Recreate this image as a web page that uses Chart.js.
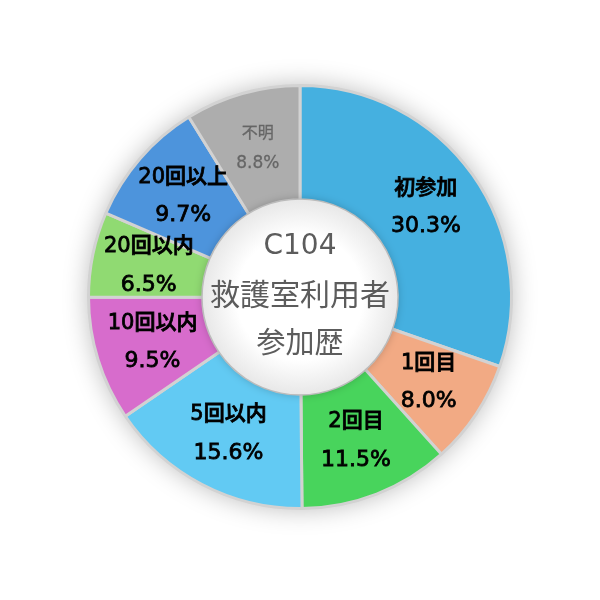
<!DOCTYPE html>
<html>
<head>
<meta charset="utf-8">
<script src="https://cdn.jsdelivr.net/npm/chart.js@4"></script>
<style>
    html, body { margin: 0; padding: 0; background: #ffffff; }
    #wrap { width: 600px; height: 600px; }
</style>
</head>
<body>
<div id="wrap"><canvas id="historyChart" width="600" height="600"></canvas></div>
<script>
const categories = ["初参加", "1回目", "2回目", "5回以内", "10回以内", "20回以内", "20回以上", "不明"];
const shares = [30.3, 8.0, 11.5, 15.6, 9.5, 6.5, 9.7, 8.8];
const sliceColors = ["#45b0e0", "#f2aa84", "#48d45c", "#62caf3", "#d76ccc", "#90da72", "#4d94dc", "#adadad"];
const centerLines = ["C104", "救護室利用者", "参加歴"];

const FONT = "'DejaVu Sans', 'Noto Sans CJK JP', sans-serif";

document.addEventListener("DOMContentLoaded", function () {
    /*
    | soft shadow behind the ring
    */
    const ringShadow = {
        id: "ringShadow",
        beforeDatasetsDraw(chart) {
            const arc = chart.getDatasetMeta(0).data[0];
            if (!arc) return;
            const ctx = chart.ctx;
            ctx.save();
            ctx.shadowColor = "rgba(0,0,0,0.28)";
            ctx.shadowBlur = 26;
            ctx.fillStyle = "#ffffff";
            ctx.beginPath();
            ctx.arc(arc.x, arc.y, arc.outerRadius, 0, Math.PI * 2);
            ctx.fill();
            ctx.restore();
        }
    };

    /*
    | slice labels and centre disc
    */
    const labelsAndCenter = {
        id: "labelsAndCenter",
        afterDatasetsDraw(chart) {
            const ctx = chart.ctx;
            const meta = chart.getDatasetMeta(0);

            meta.data.forEach(function (arc, i) {
                const mid = (arc.startAngle + arc.endAngle) / 2;
                const r = (arc.innerRadius + arc.outerRadius) / 2;
                const x = arc.x + Math.cos(mid) * r;
                const y = arc.y + Math.sin(mid) * r;
                const isUnknown = categories[i] === "不明";
                const gap = isUnknown ? 15 : 19;
                const colour = isUnknown ? "#666666" : "#000000";
                ctx.save();
                ctx.textAlign = "center";
                ctx.textBaseline = "middle";
                ctx.fillStyle = colour;
                ctx.strokeStyle = colour;
                ctx.lineWidth = isUnknown ? 0.3 : 0.8;
                ctx.font = (isUnknown ? "16px " : "500 21px ") + FONT;
                ctx.fillText(categories[i], x, y - gap);
                ctx.strokeText(categories[i], x, y - gap);
                ctx.font = (isUnknown ? "17px " : "500 22px ") + FONT;
                ctx.fillText(shares[i].toFixed(1) + "%", x, y + gap);
                ctx.strokeText(shares[i].toFixed(1) + "%", x, y + gap);
                ctx.restore();
            });

            const first = meta.data[0];
            const cx = first.x;
            const cy = first.y;
            const rr = first.innerRadius;

            ctx.save();
            ctx.shadowColor = "rgba(0,0,0,0.25)";
            ctx.shadowBlur = 10;
            const grad = ctx.createRadialGradient(cx, cy, rr * 0.65, cx, cy, rr);
            grad.addColorStop(0, "#ffffff");
            grad.addColorStop(1, "#e8e8e8");
            ctx.fillStyle = grad;
            ctx.beginPath();
            ctx.arc(cx, cy, rr, 0, Math.PI * 2);
            ctx.fill();
            ctx.restore();

            ctx.save();
            ctx.textAlign = "center";
            ctx.textBaseline = "middle";
            ctx.fillStyle = "#5c5c5c";
            ctx.font = "28px " + FONT;
            ctx.fillText(centerLines[0], cx, cy - 50);
            ctx.font = "30px " + FONT;
            ctx.fillText(centerLines[1], cx, cy);
            ctx.font = "29px " + FONT;
            ctx.fillText(centerLines[2], cx, cy + 48);
            ctx.restore();
        }
    };

    const canvas = document.getElementById("historyChart");

    new Chart(canvas, {
        type: "doughnut",
        data: {
            labels: categories,
            datasets: [
                {
                    data: shares,
                    backgroundColor: sliceColors,
                    borderColor: "#d2d2d2",
                    borderWidth: 3
                }
            ]
        },
        options: {
            responsive: false,
            animation: false,
            cutout: "46%",
            layout: { padding: { top: 84, bottom: 90, left: 87, right: 87 } },
            plugins: {
                legend: { display: false },
                tooltip: { enabled: false }
            }
        },
        plugins: [ringShadow, labelsAndCenter]
    });
});
</script>
</body>
</html>
